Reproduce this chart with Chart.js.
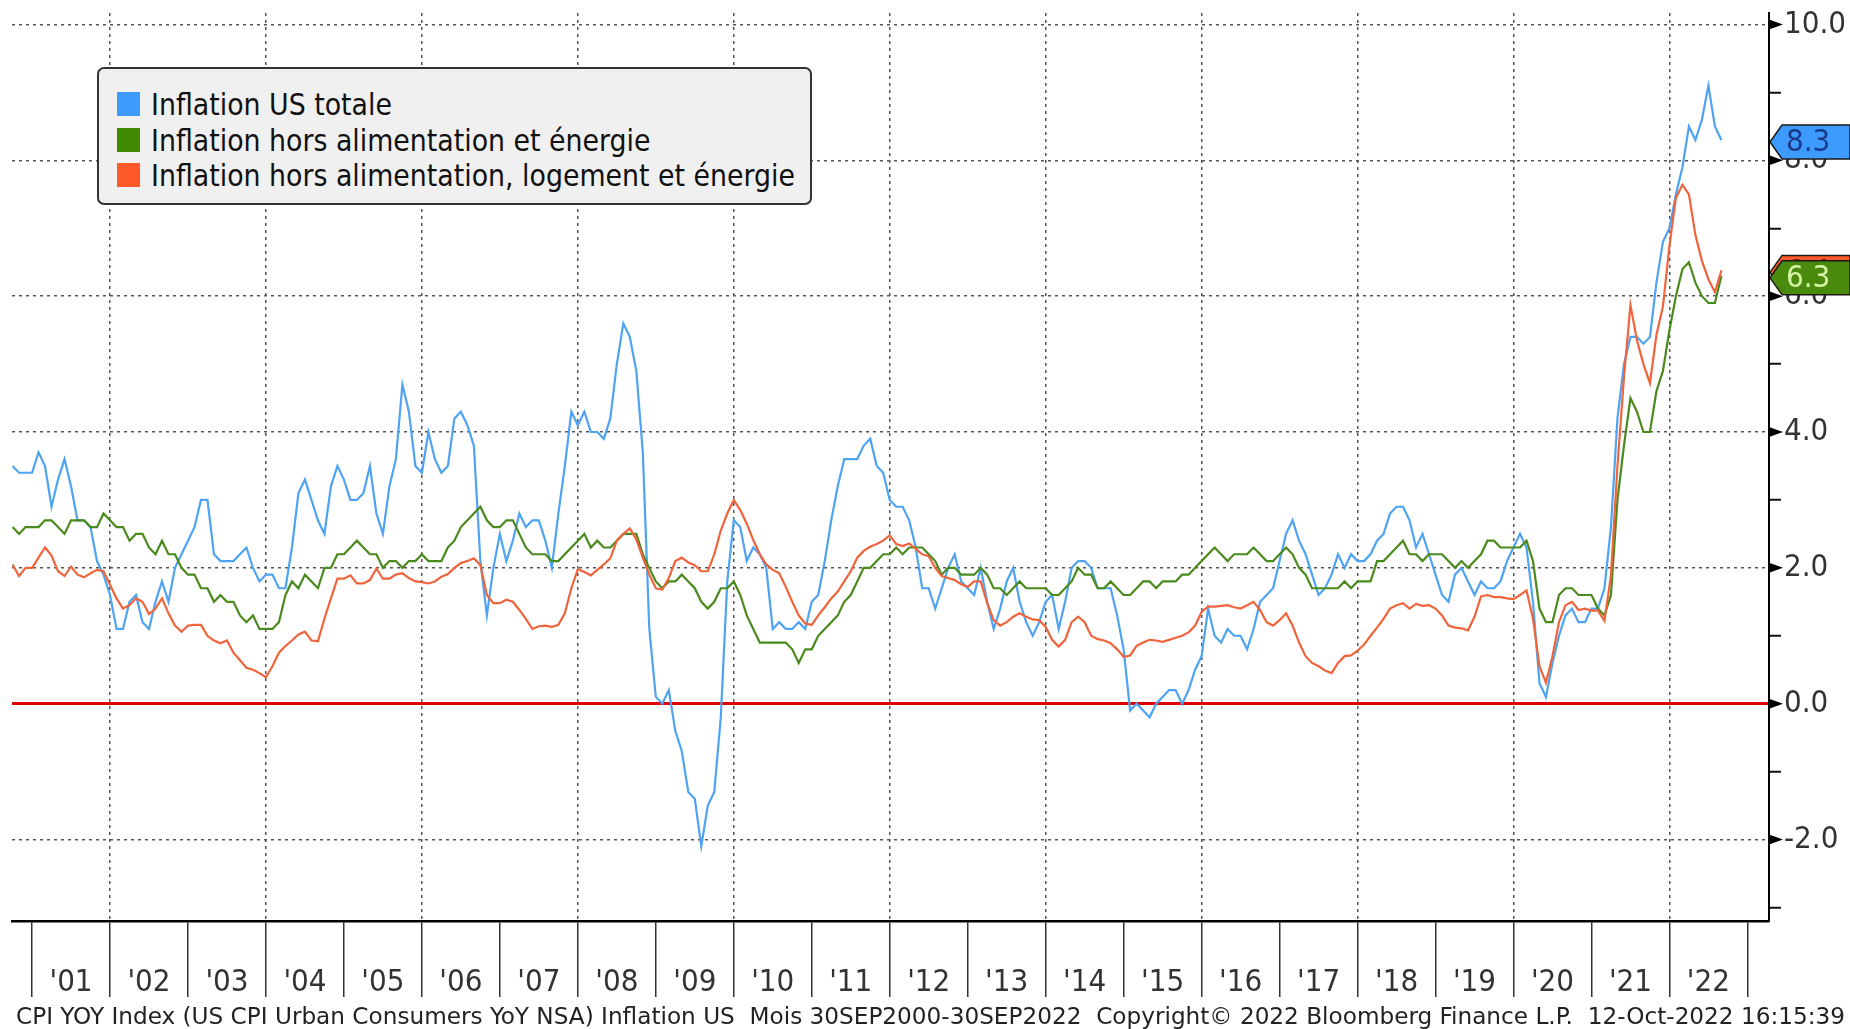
<!DOCTYPE html>
<html>
<head>
<meta charset="utf-8">
<title>Inflation US</title>
<script src="https://cdn.jsdelivr.net/npm/chart.js@4.4.0/dist/chart.umd.min.js"></script>
<style>
  body { margin: 0; background: #fff; }
  #wrap { position: relative; width: 1850px; height: 1029px; overflow: hidden; background: #fff; }
  #chart { position: absolute; left: 0; top: 0; }
  .legendBox { position: absolute; left: 97px; top: 67px; width: 715px; height: 138px; box-sizing: border-box;
    background: #f0f0f0; border: 2px solid #333; border-radius: 7px; }
  .legendRow { position: absolute; left: 18px; height: 36px; width: 680px; }
  .legendSwatch { position: absolute; left: 0; top: 6px; width: 23px; height: 24px; }
  .legendText { position: absolute; left: 34px; top: 0; line-height: 36px; white-space: nowrap; color: #111;
    font: 31px "DejaVu Sans Condensed", "Liberation Sans Narrow", "DejaVu Sans", sans-serif; transform-origin: 0 50%; }
  #footer { position: absolute; left: 16px; top: 1003px; line-height: 28px; white-space: nowrap; color: #222;
    font: 23px "DejaVu Sans Condensed", "Liberation Sans Narrow", "DejaVu Sans", sans-serif; transform-origin: 0 50%; }
</style>
</head>
<body>
<div id="wrap">
  <canvas id="chart" width="1850" height="1029"></canvas>
  <div class="legendBox" id="legend"></div>
  <div id="footer">CPI YOY Index (US CPI Urban Consumers YoY NSA) Inflation US&nbsp; Mois 30SEP2000-30SEP2022&nbsp; Copyright© 2022 Bloomberg Finance L.P.&nbsp; 12-Oct-2022 16:15:39</div>
</div>
<script>
// monthly values, Sep 2000 -> Aug 2022 (year over year, %)
const seriesNames = ["Inflation US totale", "Inflation hors alimentation et énergie", "Inflation hors alimentation, logement et énergie"];

const cpiTotal = [
  3.5, 3.4, 3.4, 3.4,
  3.7, 3.5, 2.9, 3.3, 3.6, 3.2, 2.7, 2.7, 2.6, 2.1, 1.9, 1.6,
  1.1, 1.1, 1.5, 1.6, 1.2, 1.1, 1.5, 1.8, 1.5, 2.0, 2.2, 2.4,
  2.6, 3.0, 3.0, 2.2, 2.1, 2.1, 2.1, 2.2, 2.3, 2.0, 1.8, 1.9,
  1.9, 1.7, 1.7, 2.3, 3.1, 3.3, 3.0, 2.7, 2.5, 3.2, 3.5, 3.3,
  3.0, 3.0, 3.1, 3.5, 2.8, 2.5, 3.2, 3.6, 4.7, 4.3, 3.5, 3.4,
  4.0, 3.6, 3.4, 3.5, 4.2, 4.3, 4.1, 3.8, 2.1, 1.3, 2.0, 2.5,
  2.1, 2.4, 2.8, 2.6, 2.7, 2.7, 2.4, 2.0, 2.8, 3.5, 4.3, 4.1,
  4.3, 4.0, 4.0, 3.9, 4.2, 5.0, 5.6, 5.4, 4.9, 3.7, 1.1, 0.1,
  0.0, 0.2, -0.4, -0.7, -1.3, -1.4, -2.1, -1.5, -1.3, -0.2, 1.8, 2.7,
  2.6, 2.1, 2.3, 2.2, 2.0, 1.1, 1.2, 1.1, 1.1, 1.2, 1.1, 1.5,
  1.6, 2.1, 2.7, 3.2, 3.6, 3.6, 3.6, 3.8, 3.9, 3.5, 3.4, 3.0,
  2.9, 2.9, 2.7, 2.3, 1.7, 1.7, 1.4, 1.7, 2.0, 2.2, 1.8, 1.7,
  1.6, 2.0, 1.5, 1.1, 1.4, 1.8, 2.0, 1.5, 1.2, 1.0, 1.2, 1.5,
  1.6, 1.1, 1.5, 2.0, 2.1, 2.1, 2.0, 1.7, 1.7, 1.7, 1.3, 0.8,
  -0.1, 0.0, -0.1, -0.2, 0.0, 0.1, 0.2, 0.2, 0.0, 0.2, 0.5, 0.7,
  1.4, 1.0, 0.9, 1.1, 1.0, 1.0, 0.8, 1.1, 1.5, 1.6, 1.7, 2.1,
  2.5, 2.7, 2.4, 2.2, 1.9, 1.6, 1.7, 1.9, 2.2, 2.0, 2.2, 2.1,
  2.1, 2.2, 2.4, 2.5, 2.8, 2.9, 2.9, 2.7, 2.3, 2.5, 2.2, 1.9,
  1.6, 1.5, 1.9, 2.0, 1.8, 1.6, 1.8, 1.7, 1.7, 1.8, 2.1, 2.3,
  2.5, 2.3, 1.5, 0.3, 0.1, 0.6, 1.0, 1.3, 1.4, 1.2, 1.2, 1.4,
  1.4, 1.7, 2.6, 4.2, 5.0, 5.4, 5.4, 5.3, 5.4, 6.2, 6.8, 7.0,
  7.5, 7.9, 8.5, 8.3, 8.6, 9.1, 8.5, 8.3
];

const cpiCore = [
  2.6, 2.5, 2.6, 2.6,
  2.6, 2.7, 2.7, 2.6, 2.5, 2.7, 2.7, 2.7, 2.6, 2.6, 2.8, 2.7,
  2.6, 2.6, 2.4, 2.5, 2.5, 2.3, 2.2, 2.4, 2.2, 2.2, 2.0, 1.9,
  1.9, 1.7, 1.7, 1.5, 1.6, 1.5, 1.5, 1.3, 1.2, 1.3, 1.1, 1.1,
  1.1, 1.2, 1.6, 1.8, 1.7, 1.9, 1.8, 1.7, 2.0, 2.0, 2.2, 2.2,
  2.3, 2.4, 2.3, 2.2, 2.2, 2.0, 2.1, 2.1, 2.0, 2.1, 2.1, 2.2,
  2.1, 2.1, 2.1, 2.3, 2.4, 2.6, 2.7, 2.8, 2.9, 2.7, 2.6, 2.6,
  2.7, 2.7, 2.5, 2.3, 2.2, 2.2, 2.2, 2.1, 2.1, 2.2, 2.3, 2.4,
  2.5, 2.3, 2.4, 2.3, 2.3, 2.4, 2.5, 2.5, 2.5, 2.2, 2.0, 1.8,
  1.7, 1.8, 1.8, 1.9, 1.8, 1.7, 1.5, 1.4, 1.5, 1.7, 1.7, 1.8,
  1.6, 1.3, 1.1, 0.9, 0.9, 0.9, 0.9, 0.9, 0.8, 0.6, 0.8, 0.8,
  1.0, 1.1, 1.2, 1.3, 1.5, 1.6, 1.8, 2.0, 2.0, 2.1, 2.2, 2.2,
  2.3, 2.2, 2.3, 2.3, 2.3, 2.2, 2.1, 1.9, 2.0, 2.0, 1.9, 1.9,
  1.9, 2.0, 1.9, 1.7, 1.7, 1.6, 1.7, 1.8, 1.7, 1.7, 1.7, 1.7,
  1.6, 1.6, 1.7, 1.8, 2.0, 1.9, 1.9, 1.7, 1.7, 1.8, 1.7, 1.6,
  1.6, 1.7, 1.8, 1.8, 1.7, 1.8, 1.8, 1.8, 1.9, 1.9, 2.0, 2.1,
  2.2, 2.3, 2.2, 2.1, 2.2, 2.2, 2.2, 2.3, 2.2, 2.1, 2.1, 2.2,
  2.3, 2.2, 2.0, 1.9, 1.7, 1.7, 1.7, 1.7, 1.7, 1.8, 1.7, 1.8,
  1.8, 1.8, 2.1, 2.1, 2.2, 2.3, 2.4, 2.2, 2.2, 2.1, 2.2, 2.2,
  2.2, 2.1, 2.0, 2.1, 2.0, 2.1, 2.2, 2.4, 2.4, 2.3, 2.3, 2.3,
  2.3, 2.4, 2.1, 1.4, 1.2, 1.2, 1.6, 1.7, 1.7, 1.6, 1.6, 1.6,
  1.4, 1.3, 1.6, 3.0, 3.8, 4.5, 4.3, 4.0, 4.0, 4.6, 4.9, 5.5,
  6.0, 6.4, 6.5, 6.2, 6.0, 5.9, 5.9, 6.3
];

const cpiCoreExShelter = [
  2.05, 1.88, 2.0, 2.0,
  2.15, 2.3, 2.18, 1.95, 1.88, 2.02, 1.9, 1.86, 1.92, 1.97, 1.95, 1.75,
  1.55, 1.4, 1.45, 1.55, 1.5, 1.32, 1.4, 1.55, 1.33, 1.15, 1.06, 1.15,
  1.16, 1.16, 1.0, 0.93, 0.89, 0.93, 0.75, 0.64, 0.53, 0.5, 0.45, 0.39,
  0.55, 0.75, 0.85, 0.93, 1.02, 1.06, 0.93, 0.92, 1.25, 1.55, 1.84, 1.84,
  1.89, 1.77, 1.77, 1.82, 1.99, 1.84, 1.84, 1.9, 1.92, 1.85, 1.8, 1.79,
  1.77, 1.8, 1.87, 1.91, 2.0, 2.07, 2.1, 2.14, 2.04, 1.6, 1.48, 1.48,
  1.53, 1.5, 1.38, 1.25, 1.1, 1.14, 1.15, 1.13, 1.16, 1.33, 1.7, 1.98,
  1.94, 1.89, 1.97, 2.05, 2.14, 2.4, 2.5, 2.58, 2.42, 2.15, 1.9, 1.7,
  1.68, 1.85, 2.1, 2.15, 2.08, 2.04, 1.95, 1.95, 2.2, 2.55, 2.8, 3.0,
  2.85, 2.65, 2.41, 2.2, 2.05, 1.97, 1.92, 1.72, 1.5, 1.3, 1.18, 1.16,
  1.3, 1.42, 1.55, 1.65, 1.8, 1.95, 2.15, 2.25, 2.31, 2.35, 2.4, 2.48,
  2.35, 2.32, 2.36, 2.28, 2.2, 2.17, 2.0, 1.88, 1.85, 1.82, 1.76, 1.72,
  1.8, 1.8, 1.48, 1.23, 1.15, 1.2, 1.28, 1.33, 1.28, 1.24, 1.23, 1.13,
  0.94, 0.84, 0.94, 1.2, 1.28, 1.2, 1.0, 0.95, 0.93, 0.89, 0.8, 0.69,
  0.71, 0.85, 0.9, 0.94, 0.93, 0.91, 0.94, 0.97, 1.0, 1.05, 1.15, 1.35,
  1.43, 1.43, 1.44, 1.45, 1.42, 1.4, 1.45, 1.5, 1.38, 1.2, 1.15, 1.23,
  1.33, 1.15, 0.9, 0.7, 0.6, 0.55, 0.49, 0.45, 0.6, 0.7, 0.71, 0.78,
  0.87, 1.0, 1.12, 1.25, 1.4, 1.45, 1.48, 1.4, 1.47, 1.44, 1.45, 1.4,
  1.3, 1.15, 1.12, 1.11, 1.08, 1.28, 1.58, 1.6, 1.57, 1.57, 1.55, 1.54,
  1.6, 1.67, 1.25, 0.55, 0.31, 0.7, 1.2, 1.45, 1.5, 1.38, 1.4, 1.37,
  1.37, 1.22, 1.89, 3.5, 4.8, 5.87, 5.35, 5.0, 4.72, 5.43, 5.85, 6.74,
  7.45, 7.64, 7.5, 6.9, 6.52, 6.25, 6.06, 6.38
];

// axis ticks
const yearTicks = [2001, 2002, 2003, 2004, 2005, 2006, 2007, 2008, 2009, 2010, 2011, 2012,
  2013, 2014, 2015, 2016, 2017, 2018, 2019, 2020, 2021, 2022, 2023];
const yearLabels = ["'01", "'02", "'03", "'04", "'05", "'06", "'07", "'08", "'09", "'10", "'11", "'12",
  "'13", "'14", "'15", "'16", "'17", "'18", "'19", "'20", "'21", "'22", ""];
const yTickValues = [-3, -2, -1, 0, 1, 2, 3, 4, 5, 6, 7, 8, 9, 10];

// points sit at month end: Sep 2000 -> 2000.75
const monthEnds = cpiTotal.map((v, i) => 2000.75 + i / 12);

const lineColors = ['#4ea3f2', '#4a8a1c', '#f0643c'];
const swatchColors = ['#3d9bff', '#3f8a00', '#ff5a28'];
const tagStyles = [
  { fill: '#3d9bff', text: '#1b3a8a' },
  { fill: '#4a8a0c', text: '#d6f5a8' },
  { fill: '#ff5a28', text: '#5a1000' }
];
const tagOrder = [2, 1, 0];

const font = '"DejaVu Sans Condensed", "Liberation Sans Narrow", "DejaVu Sans", sans-serif';
Chart.defaults.font.family = font;
Chart.defaults.font.size = 31;
Chart.defaults.color = '#333';

function toPoints(arr) {
    return arr.map((v, i) => ({ x: monthEnds[i], y: v }));
}

// black arrows on the right axis and the last-value tags
const axisMarks = {
    id: 'axisMarks',
    afterDraw(chart) {
        const ctx = chart.ctx;
        const yScale = chart.scales.y;
        const axisX = chart.chartArea.right;
        ctx.save();
        ctx.fillStyle = '#000';
        yScale.ticks.forEach(t => {
            if (t.value % 2 !== 0) return;
            const py = yScale.getPixelForValue(t.value);
            ctx.beginPath();
            ctx.moveTo(axisX, py - 5);
            ctx.lineTo(axisX + 14, py);
            ctx.lineTo(axisX, py + 5);
            ctx.closePath();
            ctx.fill();
        });

        tagOrder.forEach(i => {
            const pts = chart.data.datasets[i].data;
            const last = pts[pts.length - 1].y;
            const py = yScale.getPixelForValue(last) + 2;
            const h = 34;
            ctx.beginPath();
            ctx.moveTo(axisX + 1, py);
            ctx.lineTo(axisX + 13, py - h / 2);
            ctx.lineTo(chart.width, py - h / 2);
            ctx.lineTo(chart.width, py + h / 2);
            ctx.lineTo(axisX + 13, py + h / 2);
            ctx.closePath();
            ctx.fillStyle = tagStyles[i].fill;
            ctx.fill();
            ctx.strokeStyle = '#1a1a1a';
            ctx.lineWidth = 1.5;
            ctx.stroke();
            ctx.fillStyle = tagStyles[i].text;
            ctx.font = '31px ' + font;
            ctx.textBaseline = 'middle';
            ctx.textAlign = 'left';
            ctx.fillText(last.toFixed(1), axisX + 17, py + 1);
        });
        ctx.restore();
    }
};

const chart = new Chart(document.getElementById('chart'), {
    type: 'line',
    data: {
        datasets: [
            { label: seriesNames[0], data: toPoints(cpiTotal), borderColor: lineColors[0], backgroundColor: swatchColors[0], order: 3 },
            { label: seriesNames[1], data: toPoints(cpiCore), borderColor: lineColors[1], backgroundColor: swatchColors[1], order: 2 },
            { label: seriesNames[2], data: toPoints(cpiCoreExShelter), borderColor: lineColors[2], backgroundColor: swatchColors[2], order: 1 }
        ]
    },
    options: {
        responsive: false,
        animation: false,
        devicePixelRatio: 1,
        layout: { padding: { top: 13, left: 12, right: 0, bottom: 0 } },
        elements: {
            point: { radius: 0 },
            line: { borderWidth: 2.2, tension: 0 }
        },
        plugins: {
            legend: { display: false },
            tooltip: { enabled: false }
        },
        scales: {
            x: {
                type: 'linear',
                position: 'bottom',
                min: 2000.743,
                max: 2023.277,
                afterBuildTicks: s => { s.ticks = yearTicks.map(v => ({ value: v })); },
                afterFit: s => { s.height = 108; s.paddingLeft = 0; s.paddingRight = 0; },
                grid: {
                    color: c => (c.tick && c.tick.value % 2 === 0 && c.tick.value < 2023) ? '#555' : 'rgba(0,0,0,0)',
                    lineWidth: 1.5,
                    tickColor: '#333',
                    tickWidth: 1.5,
                    tickLength: 76
                },
                border: { color: '#000', width: 2.5, dash: c => c.tick ? [3, 4] : [] },
                ticks: {
                    padding: -33,
                    labelOffset: 39,
                    maxRotation: 0,
                    minRotation: 0,
                    autoSkip: false,
                    callback: (v, i) => yearLabels[i]
                }
            },
            y: {
                type: 'linear',
                position: 'right',
                min: -3.2,
                max: 10.17,
                afterBuildTicks: s => { s.ticks = yTickValues.map(v => ({ value: v })); },
                afterFit: s => { s.width = 81; s.paddingTop = 0; s.paddingBottom = 0; },
                grid: {
                    color: c => {
                        if (!c.tick) return '#000';
                        if (c.tick.value === 0) return '#e00000';
                        return c.tick.value % 2 === 0 ? '#555' : 'rgba(0,0,0,0)';
                    },
                    lineWidth: c => (c.tick && c.tick.value === 0) ? 3 : 1.5,
                    tickColor: c => (c.tick && c.tick.value % 2 !== 0) ? '#111' : 'rgba(0,0,0,0)',
                    tickWidth: 2,
                    tickLength: 12
                },
                border: { color: '#000', width: 2, dash: c => (c.tick && c.tick.value !== 0) ? [3, 4] : [] },
                ticks: {
                    padding: 3,
                    autoSkip: false,
                    callback: v => v % 2 === 0 ? v.toFixed(1) : ''
                }
            }
        }
    },
    plugins: [axisMarks]
});

// html legend built from the datasets
const legendEl = document.getElementById('legend');
const textEls = [];
chart.data.datasets.forEach((ds, i) => {
    const row = document.createElement('div');
    row.className = 'legendRow';
    row.style.top = (17 + i * 35.5) + 'px';
    row.innerHTML = '<div class="legendSwatch" style="background:' + ds.backgroundColor + '"></div>' +
        '<div class="legendText">' + ds.label + '</div>';
    legendEl.appendChild(row);
    textEls.push(row.querySelector('.legendText'));
});
// squeeze the text to the narrow terminal font widths
const widest = Math.max(...textEls.map(el => el.getBoundingClientRect().width));
const legendScale = 644 / widest;
textEls.forEach(el => { el.style.transform = 'scaleX(' + legendScale + ')'; });

const footer = document.getElementById('footer');
footer.style.transform = 'scaleX(' + (1829 / footer.getBoundingClientRect().width) + ')';
</script>
</body>
</html>
